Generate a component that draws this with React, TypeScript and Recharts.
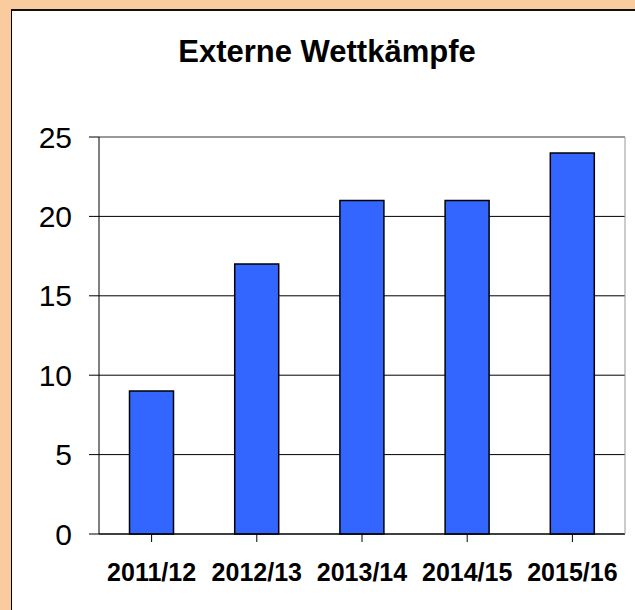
import { BarChart, Bar, XAxis, YAxis, CartesianGrid, ReferenceLine } from "recharts";

const seasons = ["2011/12", "2012/13", "2013/14", "2014/15", "2015/16"];
const competitions = [9, 17, 21, 21, 24];
const yTicks = [0, 5, 10, 15, 20, 25];

const data = seasons.map((season, i) => ({ season, count: competitions[i] }));

const font = "'Liberation Sans', Arial, sans-serif";

const App = () => {
  return (
    <div
      style={{
        position: "absolute",
        left: 0,
        top: 0,
        width: 635,
        height: 610,
        background: "#FACB9F",
        overflow: "hidden",
        fontFamily: font,
      }}
    >
      <div
        style={{
          position: "absolute",
          left: 11,
          top: 9,
          width: 624,
          height: 601,
          background: "#fff",
          borderLeft: "1px solid #000",
          borderTop: "2px solid #111",
        }}
      />
      <div
        style={{
          position: "absolute",
          left: 0,
          top: 36,
          width: 654,
          textAlign: "center",
          fontSize: 31,
          lineHeight: "31px",
          fontWeight: "bold",
          color: "#000",
        }}
      >
        Externe Wettkämpfe
      </div>
      <BarChart
        width={635}
        height={610}
        data={data}
        margin={{ top: 137, right: 0, bottom: 0, left: 0 }}
        barCategoryGap="29%"
        style={{ position: "absolute", left: 0, top: 0 }}
      >
        <CartesianGrid vertical={false} stroke="#000" />
        <XAxis
          dataKey="season"
          height={76}
          axisLine={{ stroke: "#000" }}
          tickLine={{ stroke: "#000" }}
          tickSize={8}
          tickMargin={21}
          tick={{ fill: "#000", fontSize: 25, fontWeight: "bold", fontFamily: font }}
          interval={0}
        />
        <YAxis
          width={99}
          domain={[0, 25]}
          ticks={yTicks}
          axisLine={{ stroke: "#000" }}
          tickLine={{ stroke: "#000" }}
          tickSize={10}
          tickMargin={17}
          tick={{ fill: "#000", fontSize: 30, fontFamily: font }}
        />
        <YAxis
          yAxisId="frame"
          orientation="right"
          width={10}
          domain={[0, 25]}
          tick={false}
          tickLine={false}
          axisLine={{ stroke: "#999" }}
        />
        <ReferenceLine y={25} stroke="#999" strokeWidth={2} />
        <Bar
          dataKey="count"
          fill="#3366FF"
          stroke="#000"
          strokeWidth={1.5}
          isAnimationActive={false}
        />
      </BarChart>
    </div>
  );
};

export default App;
